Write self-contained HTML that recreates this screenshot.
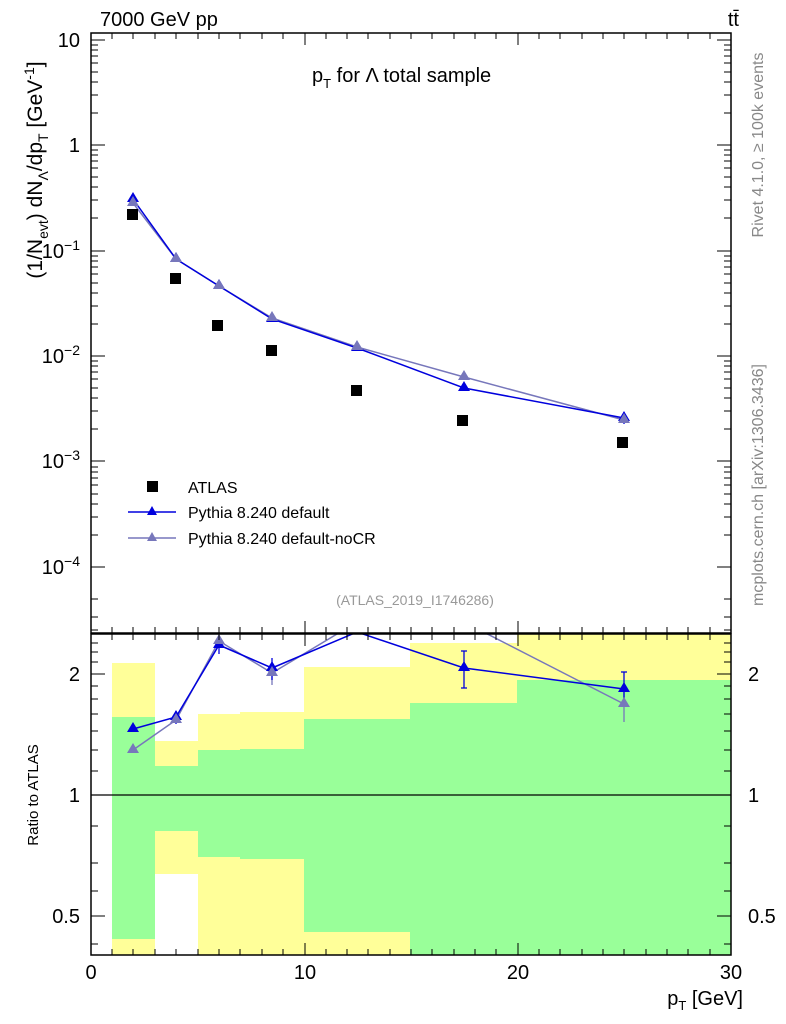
<!DOCTYPE html>
<html><head><meta charset="utf-8"><style>
html,body{margin:0;padding:0;background:#fff;}
svg{display:block;font-family:"Liberation Sans",sans-serif;}
</style></head><body>
<svg width="786" height="1024" viewBox="0 0 786 1024" xmlns="http://www.w3.org/2000/svg">
<defs>
<clipPath id="rc"><rect x="91" y="634" width="640" height="321"/></clipPath>
</defs>
<g clip-path="url(#rc)">
<rect x="112" y="663" width="43" height="292" fill="#ffff99"/>
<rect x="112" y="717" width="43" height="222" fill="#99ff99"/>
<rect x="155" y="741" width="43" height="133" fill="#ffff99"/>
<rect x="155" y="766" width="43" height="65" fill="#99ff99"/>
<rect x="198" y="714" width="43" height="241" fill="#ffff99"/>
<rect x="198" y="750" width="43" height="107" fill="#99ff99"/>
<rect x="240" y="712" width="65" height="243" fill="#ffff99"/>
<rect x="240" y="749" width="65" height="110" fill="#99ff99"/>
<rect x="304" y="667" width="107" height="288" fill="#ffff99"/>
<rect x="304" y="719" width="107" height="213" fill="#99ff99"/>
<rect x="410" y="643" width="107" height="312" fill="#ffff99"/>
<rect x="410" y="703" width="107" height="252" fill="#99ff99"/>
<rect x="517" y="634" width="214" height="321" fill="#ffff99"/>
<rect x="517" y="680" width="214" height="275" fill="#99ff99"/>
<line x1="91" y1="795" x2="731" y2="795" stroke="#000" stroke-width="1.3"/>
<polyline points="133,750 176,720 219,641 272,673 357,622 464,622 624,704" fill="none" stroke="#7777bb" stroke-width="1.5"/>
<polyline points="133,729 176,717 219,645 272,668 357,632 464,668 624,689" fill="none" stroke="#0000dd" stroke-width="1.5"/>
<g stroke="#7777bb" stroke-width="1.3"><line x1="624" y1="688" x2="624" y2="722"/><line x1="272" y1="663" x2="272" y2="685"/></g>
<g stroke="#0000dd" stroke-width="1.3"><line x1="464" y1="651" x2="464" y2="688"/><line x1="461" y1="651" x2="467" y2="651"/><line x1="461" y1="688" x2="467" y2="688"/>
<line x1="624" y1="672" x2="624" y2="706"/><line x1="621" y1="672" x2="627" y2="672"/>
<line x1="272" y1="658" x2="272" y2="680"/><line x1="219" y1="640" x2="219" y2="654"/><line x1="176" y1="711" x2="176" y2="724"/></g>
<g fill="#0000dd"><path d="M133,722 l6,10 h-12z"/><path d="M176,710 l6,10 h-12z"/><path d="M219,638 l6,10 h-12z"/><path d="M272,661 l6,10 h-12z"/><path d="M464,661 l6,10 h-12z"/><path d="M624,682 l6,10 h-12z"/></g>
<g fill="#7777bb"><path d="M133,743 l6,10 h-12z"/><path d="M176,713 l6,10 h-12z"/><path d="M219,634 l6,10 h-12z"/><path d="M272,666 l6,10 h-12z"/><path d="M624,697 l6,10 h-12z"/></g>
</g>
<polyline points="133,203 176,259 219,286 272,318 357,347 464,377 624,420" fill="none" stroke="#7777bb" stroke-width="1.5"/>
<polyline points="133,199 176,259 219,286 272,319 357,348 464,388 624,418" fill="none" stroke="#0000dd" stroke-width="1.5"/>
<line x1="624" y1="412" x2="624" y2="424" stroke="#0000dd" stroke-width="1.3"/>
<g fill="#0000dd"><path d="M133,192 l6,10 h-12z"/><path d="M176,252 l6,10 h-12z"/><path d="M219,279 l6,10 h-12z"/><path d="M272,312 l6,10 h-12z"/><path d="M357,341 l6,10 h-12z"/><path d="M464,381 l6,10 h-12z"/><path d="M624,411 l6,10 h-12z"/></g>
<g fill="#7777bb"><path d="M133,196 l6,10 h-12z"/><path d="M176,252 l6,10 h-12z"/><path d="M219,279 l6,10 h-12z"/><path d="M272,311 l6,10 h-12z"/><path d="M357,340 l6,10 h-12z"/><path d="M464,370 l6,10 h-12z"/><path d="M624,413 l6,10 h-12z"/></g>
<g fill="#000"><rect x="127" y="209" width="11" height="11"/><rect x="170" y="273" width="11" height="11"/><rect x="212" y="320" width="11" height="11"/><rect x="266" y="345" width="11" height="11"/><rect x="351" y="385" width="11" height="11"/><rect x="457" y="415" width="11" height="11"/><rect x="617" y="437" width="11" height="11"/></g>
<rect x="91" y="33" width="640" height="600" fill="none" stroke="#000" stroke-width="1.5"/>
<rect x="91" y="634" width="640" height="321" fill="none" stroke="#000" stroke-width="1.5"/>
<g stroke="#000" stroke-width="1">
<path d="M112,33v6M133,33v6M155,33v6M176,33v6M198,33v6M219,33v6M240,33v6M262,33v6M283,33v6M305,33v12M326,33v6M347,33v6M368,33v6M390,33v6M411,33v6M432,33v6M454,33v6M475,33v6M496,33v6M518,33v12M539,33v6M560,33v6M582,33v6M603,33v6M624,33v6M646,33v6M667,33v6M688,33v6M710,33v6"/>
<path d="M112,633v-6M133,633v-6M155,633v-6M176,633v-6M198,633v-6M219,633v-6M240,633v-6M262,633v-6M283,633v-6M305,633v-12M326,633v-6M347,633v-6M368,633v-6M390,633v-6M411,633v-6M432,633v-6M454,633v-6M475,633v-6M496,633v-6M518,633v-12M539,633v-6M560,633v-6M582,633v-6M603,633v-6M624,633v-6M646,633v-6M667,633v-6M688,633v-6M710,633v-6"/>
<path d="M112,634v6M133,634v6M155,634v6M176,634v6M198,634v6M219,634v6M240,634v6M262,634v6M283,634v6M305,634v12M326,634v6M347,634v6M368,634v6M390,634v6M411,634v6M432,634v6M454,634v6M475,634v6M496,634v6M518,634v12M539,634v6M560,634v6M582,634v6M603,634v6M624,634v6M646,634v6M667,634v6M688,634v6M710,634v6"/>
<path d="M112,955v-6M133,955v-6M155,955v-6M176,955v-6M198,955v-6M219,955v-6M240,955v-6M262,955v-6M283,955v-6M305,955v-12M326,955v-6M347,955v-6M368,955v-6M390,955v-6M411,955v-6M432,955v-6M454,955v-6M475,955v-6M496,955v-6M518,955v-12M539,955v-6M560,955v-6M582,955v-6M603,955v-6M624,955v-6M646,955v-6M667,955v-6M688,955v-6M710,955v-6"/>
<path d="M91,40h14M91,145h14M91,251h14M91,356h14M91,461h14M91,567h14M731,40h-14M731,145h-14M731,251h-14M731,356h-14M731,461h-14M731,567h-14"/>
<path d="M91,113h7M91,95h7M91,82h7M91,72h7M91,63h7M91,56h7M91,50h7M91,45h7M91,218h7M91,200h7M91,187h7M91,177h7M91,168h7M91,161h7M91,155h7M91,150h7M91,324h7M91,306h7M91,293h7M91,283h7M91,274h7M91,267h7M91,261h7M91,256h7M91,429h7M91,411h7M91,398h7M91,388h7M91,379h7M91,372h7M91,366h7M91,361h7M91,535h7M91,517h7M91,504h7M91,494h7M91,485h7M91,478h7M91,472h7M91,467h7M91,599h7M91,617h7M91,630h7"/>
<path d="M731,113h-7M731,95h-7M731,82h-7M731,72h-7M731,63h-7M731,56h-7M731,50h-7M731,45h-7M731,218h-7M731,200h-7M731,187h-7M731,177h-7M731,168h-7M731,161h-7M731,155h-7M731,150h-7M731,324h-7M731,306h-7M731,293h-7M731,283h-7M731,274h-7M731,267h-7M731,261h-7M731,256h-7M731,429h-7M731,411h-7M731,398h-7M731,388h-7M731,379h-7M731,372h-7M731,366h-7M731,361h-7M731,535h-7M731,517h-7M731,504h-7M731,494h-7M731,485h-7M731,478h-7M731,472h-7M731,467h-7M731,599h-7M731,617h-7M731,630h-7"/>
<path d="M91,674h14M91,795h14M91,916h14M731,674h-14M731,795h-14M731,916h-14"/>
<path d="M91,643h7M91,652h7M91,662h7M91,686h7M91,699h7M91,714h7M91,731h7M91,750h7M91,771h7M91,826h7M91,863h7M91,891h7M91,944h7"/>
<path d="M731,643h-7M731,652h-7M731,662h-7M731,686h-7M731,699h-7M731,714h-7M731,731h-7M731,750h-7M731,771h-7M731,826h-7M731,863h-7M731,891h-7M731,944h-7"/>
</g>
<g font-size="20" fill="#000">
<text x="100" y="26">7000 GeV pp</text>
<text x="739" y="26" text-anchor="end">tt̄</text>
<text x="80" y="47" text-anchor="end">10</text>
<text x="80" y="152" text-anchor="end">1</text>
<text x="80" y="258" text-anchor="end">10<tspan dy="-8" font-size="14">−1</tspan></text>
<text x="80" y="363" text-anchor="end">10<tspan dy="-8" font-size="14">−2</tspan></text>
<text x="80" y="468" text-anchor="end">10<tspan dy="-8" font-size="14">−3</tspan></text>
<text x="80" y="574" text-anchor="end">10<tspan dy="-8" font-size="14">−4</tspan></text>
<text x="80" y="681" text-anchor="end">2</text>
<text x="80" y="802" text-anchor="end">1</text>
<text x="80" y="923" text-anchor="end">0.5</text>
<text x="748" y="681">2</text>
<text x="748" y="802">1</text>
<text x="748" y="923">0.5</text>
<text x="91" y="979" text-anchor="middle">0</text>
<text x="305" y="979" text-anchor="middle">10</text>
<text x="518" y="979" text-anchor="middle">20</text>
<text x="731" y="979" text-anchor="middle">30</text>
<text x="743" y="1005" text-anchor="end">p<tspan dy="5" font-size="13">T</tspan><tspan dy="-5"> [GeV]</tspan></text>
<text x="312" y="82">p<tspan dy="6" font-size="13">T</tspan><tspan dy="-6"> for Λ total sample</tspan></text>
<text transform="translate(42,170) rotate(-90)" text-anchor="middle" font-size="21">(1/N<tspan dy="6" font-size="14">evt</tspan><tspan dy="-6">) dN</tspan><tspan dy="6" font-size="14">Λ</tspan><tspan dy="-6">/dp</tspan><tspan dy="6" font-size="14">T</tspan><tspan dy="-6"> [GeV</tspan><tspan dy="-8" font-size="14">-1</tspan><tspan dy="8">]</tspan></text>
</g>
<text transform="translate(38,795) rotate(-90)" text-anchor="middle" font-size="15">Ratio to ATLAS</text>
<g font-size="16" fill="#888">
<text transform="translate(763,145) rotate(-90)" text-anchor="middle">Rivet 4.1.0, ≥ 100k events</text>
<text transform="translate(763,485) rotate(-90)" text-anchor="middle">mcplots.cern.ch [arXiv:1306.3436]</text>
</g>
<text x="415" y="605" text-anchor="middle" font-size="14" fill="#999">(ATLAS_2019_I1746286)</text>
<rect x="147" y="481" width="11" height="11" fill="#000"/>
<text x="188" y="493" font-size="16">ATLAS</text>
<line x1="128" y1="512" x2="176" y2="512" stroke="#0000dd" stroke-width="1.5"/>
<path d="M152,506 l5,9 h-10z" fill="#0000dd"/>
<text x="188" y="518" font-size="16">Pythia 8.240 default</text>
<line x1="128" y1="538" x2="176" y2="538" stroke="#7777bb" stroke-width="1.5"/>
<path d="M152,532 l5,9 h-10z" fill="#7777bb"/>
<text x="188" y="544" font-size="16">Pythia 8.240 default-noCR</text>
</svg>
</body></html>
